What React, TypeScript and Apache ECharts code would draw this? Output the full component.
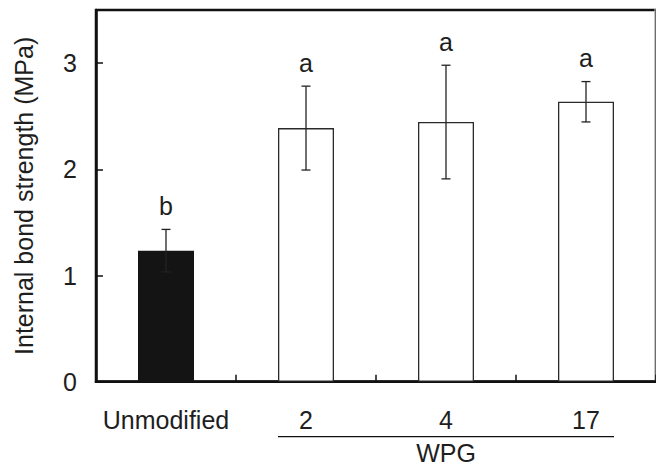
import React, { useEffect, useRef } from "react";
import * as echarts from "echarts";

const categories = ["Unmodified", "2", "4", "17"];
const means = [1.234, 2.388, 2.445, 2.636];
const errors = [0.2, 0.395, 0.535, 0.19];
const letters = ["b", "a", "a", "a"];
const barColors = ["#141414", "#ffffff", "#ffffff", "#ffffff"];
const groupLabel = "WPG";
const groupStart = 1;
const groupEnd = 3;
const yTicks = [0, 1, 2, 3];
const yMax = 3.5;
const yName = "Internal bond strength (MPa)";

const FONT = "'Liberation Sans', Arial, Helvetica, sans-serif";
const TXT = "#1e1e1e";
const FS = 25;

export default function App() {
  const ref = useRef<HTMLDivElement>(null);
  useEffect(() => {
    if (!ref.current) return;
    const chart = echarts.init(ref.current, null, { renderer: "svg" });
    const option: any = {
      animation: false,
      backgroundColor: "#ffffff",
      textStyle: { fontFamily: FONT },
      grid: {
        left: 96,
        top: 10,
        right: -1.6,
        bottom: 84.3,
        show: true,
        borderColor: "#111",
        borderWidth: 2.5,
      },
      xAxis: {
        type: "category",
        data: categories,
        axisLine: { show: true, lineStyle: { color: "#111", width: 2.5 } },
        axisTick: {
          show: true,
          inside: true,
          interval: 0,
          length: 7,
          lineStyle: { color: "#111", width: 1.5 },
        },
        axisLabel: {
          interval: 0,
          margin: 26,
          fontSize: FS,
          color: TXT,
          fontFamily: FONT,
        },
        splitLine: { show: false },
      },
      yAxis: {
        type: "value",
        min: 0,
        max: yMax,
        interval: 1,
        name: yName,
        nameLocation: "middle",
        nameRotate: 90,
        nameGap: 60,
        nameTextStyle: { fontSize: FS, color: TXT, fontFamily: FONT },
        axisLine: { show: true, lineStyle: { color: "#111", width: 2.5 } },
        axisTick: {
          show: true,
          inside: true,
          length: 7,
          lineStyle: { color: "#111", width: 1.5 },
        },
        axisLabel: {
          margin: 19,
          fontSize: FS,
          color: TXT,
          fontFamily: FONT,
          showMaxLabel: false,
          formatter: (v: number) => (yTicks.indexOf(v) >= 0 ? String(v) : ""),
        },
        splitLine: { show: false },
      },
      graphic: [
        {
          type: "line",
          shape: { x1: 655, y1: 9, x2: 655, y2: 381 },
          style: { stroke: "#c8c8c8", lineWidth: 1 },
          silent: true,
        },
      ],
      series: [
        {
          type: "bar",
          barWidth: "40%",
          data: means.map((m, i) => ({
            value: m,
            itemStyle: {
              color: barColors[i],
              borderColor: "#2a2a2a",
              borderWidth: i === 0 ? 0 : 1.3,
            },
          })),
          z: 2,
        },
        {
          type: "custom",
          z: 3,
          encode: { x: 0, y: 1 },
          data: means.map((m, i) => [i, m, errors[i]]),
          renderItem: (params: any, api: any) => {
            const i = api.value(0);
            const m = api.value(1);
            const e = api.value(2);
            const top = api.coord([i, m + e]);
            const bot = api.coord([i, m - e]);
            const x = top[0];
            const cap = 4.5;
            const ls = { stroke: "#222", lineWidth: 1.3 };
            return {
              type: "group",
              children: [
                { type: "line", shape: { x1: x, y1: top[1], x2: x, y2: bot[1] }, style: ls },
                { type: "line", shape: { x1: x - cap, y1: top[1], x2: x + cap, y2: top[1] }, style: ls },
                { type: "line", shape: { x1: x - cap, y1: bot[1], x2: x + cap, y2: bot[1] }, style: ls },
                {
                  type: "text",
                  style: {
                    text: letters[params.dataIndex],
                    x: x,
                    y: top[1] - 11,
                    align: "center",
                    verticalAlign: "bottom",
                    fontSize: FS,
                    fontFamily: FONT,
                    fill: TXT,
                  },
                },
              ],
            };
          },
        },
        {
          type: "custom",
          z: 3,
          clip: false,
          encode: { x: 0, y: 1 },
          data: [[groupStart, 0, groupEnd]],
          renderItem: (params: any, api: any) => {
            const a = api.coord([api.value(0), 0]);
            const b = api.coord([api.value(2), 0]);
            const half = api.size([1, 0])[0] * 0.2;
            const x1 = a[0] - half;
            const x2 = b[0] + half;
            const y = a[1] + 55;
            return {
              type: "group",
              children: [
                { type: "line", shape: { x1, y1: y, x2, y2: y }, style: { stroke: "#111", lineWidth: 1.2 } },
                {
                  type: "text",
                  style: {
                    text: groupLabel,
                    x: (x1 + x2) / 2,
                    y: a[1] + 71.5,
                    align: "center",
                    verticalAlign: "middle",
                    fontSize: FS,
                    fontFamily: FONT,
                    fill: TXT,
                  },
                },
              ],
            };
          },
        },
      ],
    };
    chart.setOption(option);
    return () => chart.dispose();
  }, []);
  return (
    <div
      ref={ref}
      style={{ position: "fixed", left: 0, top: 0, width: 656, height: 466, background: "#fff" }}
    />
  );
}
